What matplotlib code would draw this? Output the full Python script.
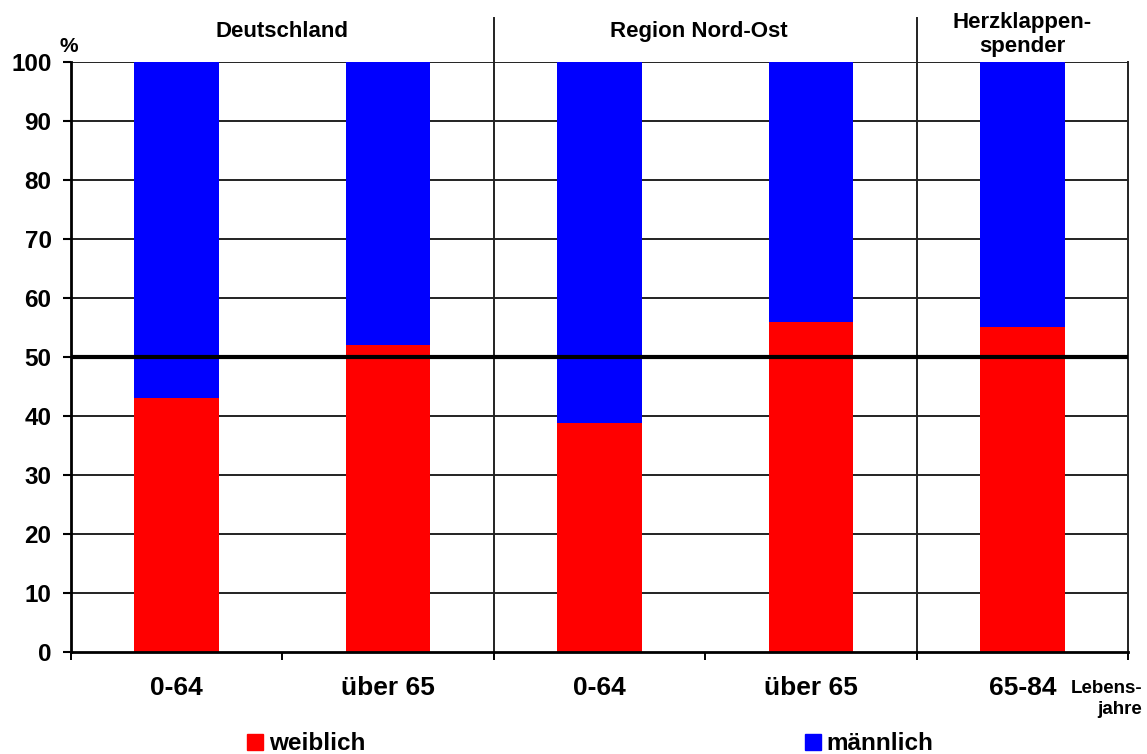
import matplotlib
matplotlib.use("Agg")
import matplotlib.pyplot as plt
from matplotlib.patches import Patch

plt.rcParams['font.family'] = ['Liberation Sans', 'DejaVu Sans']
plt.rcParams['font.weight'] = 'bold'

# Age groups and the share of women (%) in each; men make up the rest
age_groups = ["0-64", "über 65", "0-64", "über 65", "65-84"]
weiblich = [43, 52, 38.8, 56, 55]
maennlich = [100 - w for w in weiblich]
group_titles = ["Deutschland", "Region Nord-Ost", "Herzklappen-\nspender"]
group_centers = [0.5, 2.47, 4.0]
separators = [1.5, 3.5]
y_ticks = list(range(0, 101, 10))

RED = "#FF0000"
BLUE = "#0000FF"

fig = plt.figure(figsize=(11.47, 7.54), dpi=100)
ax = fig.add_axes([0.0619, 0.1353, 0.9215, 0.7825])

x = list(range(len(age_groups)))
ax.bar(x, weiblich, width=0.4, color=RED, zorder=2, label="weiblich")
ax.bar(x, maennlich, width=0.4, bottom=weiblich, color=BLUE, zorder=2,
       label="männlich")

ax.set_xlim(-0.5, len(age_groups) - 0.5)
ax.set_ylim(0, 100)

# horizontal grid behind the bars
for yv in y_ticks[1:]:
    ax.axhline(yv, color="#111111", lw=1.3, zorder=1)
# reference line at 50 %
ax.axhline(50, color="black", lw=3, zorder=3)

# group separators reaching up into the title band
for sx in separators:
    ax.plot([sx, sx], [0, 107.5], color="#222222", lw=1.4, clip_on=False,
            zorder=1)

ax.spines["top"].set_visible(False)
ax.spines["left"].set_linewidth(2)
ax.spines["bottom"].set_linewidth(2)
ax.spines["right"].set_linewidth(1.4)
ax.spines["right"].set_color("#222222")

ax.set_yticks(y_ticks)
ax.set_yticklabels([str(v) for v in y_ticks], fontsize=17.5, fontweight="bold")
ax.tick_params(axis="y", direction="out", length=6, width=1.5, pad=8)

# boundaries carry the tick marks, centres carry the labels
ax.set_xticks([i - 0.5 for i in range(len(age_groups) + 1)])
ax.set_xticklabels([])
ax.tick_params(axis="x", which="major", direction="out", length=6, width=1.4)
ax.set_xticks(x, minor=True)
ax.set_xticklabels(age_groups, minor=True, fontsize=19, fontweight="bold")
ax.tick_params(axis="x", which="minor", length=0, pad=17)

for title, cx in zip(group_titles, group_centers):
    ax.text(cx, 104.7 if "\n" in title else 105.1, title, ha="center",
            va="center", fontsize=16, fontweight="bold", linespacing=1.2,
            transform=ax.transData)

fig.text(69 / 1147, 1 - 47 / 754, "%", ha="center", va="center", fontsize=15,
         fontweight="bold")
fig.text(1142 / 1147, 1 - 699 / 754, "Lebens-\njahre", ha="right",
         va="center", multialignment="right", fontsize=13.5, fontweight="bold",
         linespacing=1.35)

leg_kw = dict(frameon=False, handlelength=0.64, handleheight=0.64,
              handletextpad=0.25, borderpad=0, borderaxespad=0,
              prop={"weight": "bold", "size": 17.5})
fig.legend(handles=[Patch(color=RED, label="weiblich")], loc="center left",
           bbox_to_anchor=(247 / 1147, 1 - 744 / 754), **leg_kw)
fig.legend(handles=[Patch(color=BLUE, label="männlich")], loc="center left",
           bbox_to_anchor=(805 / 1147, 1 - 744 / 754), **leg_kw)

fig.savefig("out.png", dpi=100)
